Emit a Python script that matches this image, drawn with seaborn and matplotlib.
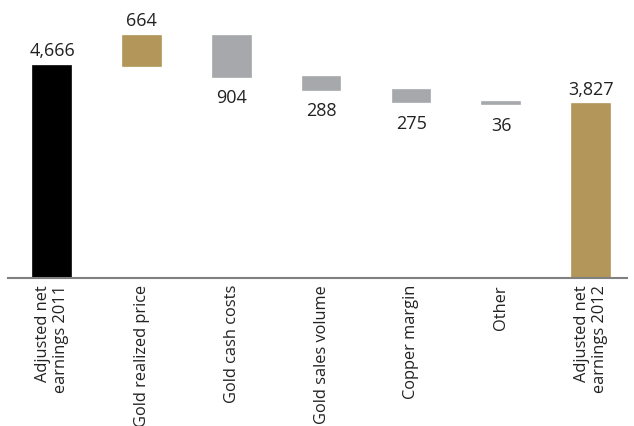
import numpy as np
import pandas as pd
import matplotlib
matplotlib.use('Agg')
import matplotlib.pyplot as plt
import seaborn as sns

steps = ['Adjusted net\nearnings 2011', 'Gold realized price', 'Gold cash costs',
         'Gold sales volume', 'Copper margin', 'Other', 'Adjusted net\nearnings 2012']
changes = [4666, 664, -904, -288, -275, -36, 3827]
labels = ['4,666', '664', '904', '288', '275', '36', '3,827']
kinds = ['total', 'up', 'down', 'down', 'down', 'down', 'total']
colors = ['#000000', '#b39659', '#a7a8ab', '#a7a8ab', '#a7a8ab', '#a7a8ab', '#b39659']

# floating bar geometry from the running total
bottoms, heights = [], []
running = 0
for i, (c, k) in enumerate(zip(changes, kinds)):
    if k == 'total':
        bottoms.append(0)
        heights.append(c)
        running = c
    else:
        new = running + c
        bottoms.append(min(running, new))
        heights.append(abs(c))
        running = new

df = pd.DataFrame({'step': steps, 'height': heights, 'bottom': bottoms})

sns.set_style('white')
plt.rcParams['font.family'] = ['Open Sans', 'DejaVu Sans']

fig = plt.figure(figsize=(6.34, 4.26), dpi=100)
ax = fig.add_axes([8 / 634, 148 / 426, 619 / 634, 278 / 426])

sns.barplot(data=df, x='step', y='height', hue='step', palette=colors,
            width=0.42, legend=False, ax=ax, saturation=1)

for p, b, col in zip(ax.patches, df['bottom'], colors):
    p.set_y(b)
    # thin edge so the tiny "Other" step stays visible
    p.set_edgecolor(col)
    p.set_linewidth(1.2)

for i, (p, lab, k) in enumerate(zip(ax.patches, labels, kinds)):
    xc = p.get_x() + p.get_width() / 2
    if k == 'down':
        ax.annotate(lab, (xc, p.get_y()), xytext=(0, -9), textcoords='offset points',
                    ha='center', va='top', fontsize=13, color='#222222')
    else:
        ax.annotate(lab, (xc, p.get_y() + p.get_height()), xytext=(0, 4),
                    textcoords='offset points', ha='center', va='bottom',
                    fontsize=13, color='#222222')

ax.set_xlim(-0.49, 6.4)
ax.set_ylim(0, 6118)
ax.set_xlabel('')
ax.set_ylabel('')
ax.set_yticks([])
for s in ['top', 'right', 'left']:
    ax.spines[s].set_visible(False)
ax.spines['bottom'].set_color('#808080')
ax.spines['bottom'].set_linewidth(1.5)
ax.tick_params(axis='x', length=0, pad=5)
for t in ax.get_xticklabels():
    t.set_rotation(90)
    t.set_ha('center')
    t.set_va('top')
    t.set_multialignment('right')
    t.set_fontsize(11.8)
    t.set_color('#222222')

fig.savefig('out.png', dpi=100)
